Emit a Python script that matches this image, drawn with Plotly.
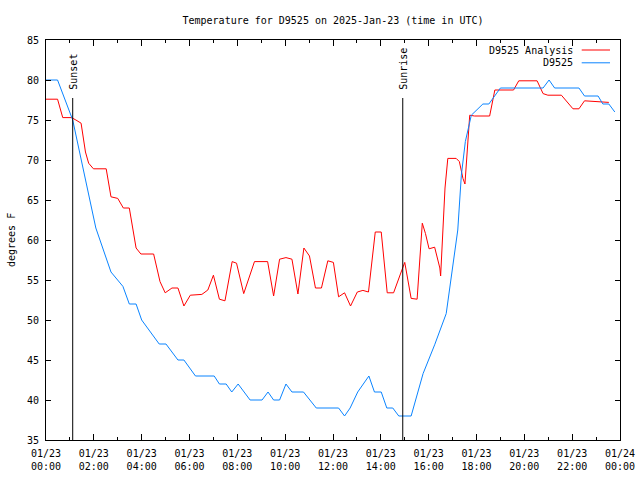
import plotly.graph_objects as go

DAY = "2025-01-23"

# D9525 observations (blue)
obs_times = ["00:00", "00:29", "01:07", "02:05", "02:43", "03:13", "03:29", "03:46", "04:00",
             "04:44", "05:01", "05:31", "05:46", "06:15", "07:02", "07:15", "07:32", "07:46",
             "08:02", "08:32", "09:02", "09:17", "09:31", "09:46", "10:02", "10:17", "10:46",
             "11:18", "12:14", "12:29", "12:43", "13:02", "13:30", "13:44", "14:01", "14:15",
             "14:30", "14:45", "15:16", "15:46", "16:15", "16:44", "17:13", "17:22", "17:32",
             "17:47", "18:16", "18:31", "19:00", "20:47", "21:02", "21:16", "22:17", "22:31",
             "23:05", "23:17", "23:32", "23:47"]
obs_temps = [80, 80, 75, 61.5, 56, 54.2, 52, 52, 50,
             47, 47, 45, 45, 43, 43, 42, 42, 41,
             42, 40, 40, 41, 40, 40, 42, 41, 41,
             39, 39, 38, 39, 41, 43, 41, 41, 39,
             39, 38, 38, 43.3, 46.9, 50.8, 61.25, 68.1, 72.3,
             75.6, 77, 77, 79, 79, 80, 79, 79, 78,
             78, 77, 77, 76]

# D9525 Analysis (red)
ana_times = ["00:00", "00:29", "00:42", "01:04", "01:15", "01:28", "01:39", "01:47", "01:59",
             "02:31", "02:43", "03:00", "03:14", "03:29", "03:46", "03:58", "04:30", "04:46",
             "04:59", "05:16", "05:31", "05:46", "06:02", "06:31", "06:46", "07:00", "07:15",
             "07:29", "07:47", "07:58", "08:16", "08:43", "09:16", "09:31", "09:46", "10:02",
             "10:17", "10:32", "10:47", "11:01", "11:16", "11:31", "11:47", "12:01", "12:14",
             "12:29", "12:44", "13:01", "13:15", "13:29", "13:46", "14:01", "14:16", "14:32",
             "14:51", "15:00", "15:16", "15:31", "15:44", "15:52", "16:01", "16:15", "16:28",
             "16:30", "16:41", "16:48", "17:09", "17:17", "17:26", "17:31", "17:43", "17:55",
             "18:33", "18:46", "19:33", "19:46", "20:32", "20:47", "20:59", "21:33", "22:02",
             "22:17", "22:31", "23:32"]
ana_temps = [77.6, 77.6, 75.3, 75.3, 75.0, 74.6, 71.0, 69.6, 68.9,
             68.9, 65.4, 65.2, 64.0, 64.0, 59.0, 58.25, 58.25, 54.8,
             53.4, 54.0, 54.0, 51.75, 53.1, 53.2, 53.75, 55.6, 52.6,
             52.4, 57.3, 57.1, 53.3, 57.3, 57.3, 53.0, 57.6, 57.8,
             57.6, 53.25, 59.0, 58.0, 54.0, 54.0, 57.4, 57.2, 52.9,
             53.4, 51.75, 53.5, 53.7, 53.5, 61.0, 61.0, 53.4, 53.4,
             56.0, 57.2, 52.7, 52.6, 62.1, 60.8, 58.9, 59.1, 56.5,
             55.5, 66.5, 70.2, 70.2, 69.8, 67.7, 67.0, 75.6, 75.5,
             75.5, 78.75, 78.75, 79.9, 79.9, 78.3, 78.1, 78.1, 76.4,
             76.4, 77.4, 77.2]

# sun events
event_names = ["Sunset", "Sunrise"]
event_times = ["01:07", "14:55"]

# axis ticks
x_tick_times = ["2025-01-23 00:00", "2025-01-23 02:00", "2025-01-23 04:00", "2025-01-23 06:00",
                "2025-01-23 08:00", "2025-01-23 10:00", "2025-01-23 12:00", "2025-01-23 14:00",
                "2025-01-23 16:00", "2025-01-23 18:00", "2025-01-23 20:00", "2025-01-23 22:00",
                "2025-01-24 00:00"]
x_tick_labels = ["01/23<br>00:00", "01/23<br>02:00", "01/23<br>04:00", "01/23<br>06:00",
                 "01/23<br>08:00", "01/23<br>10:00", "01/23<br>12:00", "01/23<br>14:00",
                 "01/23<br>16:00", "01/23<br>18:00", "01/23<br>20:00", "01/23<br>22:00",
                 "01/24<br>00:00"]
y_ticks = [35, 40, 45, 50, 55, 60, 65, 70, 75, 80, 85]

RED = "#ff0000"
BLUE = "#0a84ff"
FONT = "DejaVu Sans Mono"

fig = go.Figure()
fig.add_trace(go.Scatter(x=[f"{DAY} {t}" for t in ana_times], y=ana_temps, mode="lines",
                         line=dict(color=RED, width=1), name="D9525 Analysis", showlegend=False))
fig.add_trace(go.Scatter(x=[f"{DAY} {t}" for t in obs_times], y=obs_temps, mode="lines",
                         line=dict(color=BLUE, width=1), name="D9525", showlegend=False))

for name, t in zip(event_names, event_times):
    fig.add_shape(type="line", xref="x", yref="paper", x0=f"{DAY} {t}", x1=f"{DAY} {t}",
                  y0=0, y1=0.855, line=dict(color="black", width=1))
    fig.add_annotation(x=f"{DAY} {t}", y=0.87, xref="x", yref="paper", text=name,
                       textangle=-90, showarrow=False, xanchor="center", yanchor="bottom",
                       font=dict(family=FONT, size=10, color="black"))

# legend (text left of line sample)
for i, (name, col) in enumerate([("D9525 Analysis", RED), ("D9525", BLUE)]):
    yy = 0.975 - i * 0.032
    fig.add_annotation(x=0.922, y=yy, xref="paper", yref="paper", text=name, showarrow=False,
                       xanchor="right", yanchor="middle",
                       font=dict(family=FONT, size=10, color="black"))
    fig.add_shape(type="line", xref="paper", yref="paper", x0=0.9333, x1=0.9826, y0=yy, y1=yy,
                  line=dict(color=col, width=1))

fig.add_annotation(x=0, y=0.5, xref="paper", yref="paper", text="degrees F", textangle=-90,
                   showarrow=False, xshift=-35, xanchor="center", yanchor="middle",
                   font=dict(family=FONT, size=10, color="black"))

fig.update_layout(
    width=640, height=480,
    margin=dict(l=46, r=20, t=40, b=40, autoexpand=False),
    paper_bgcolor="white", plot_bgcolor="white",
    title=dict(text="Temperature for D9525 on 2025-Jan-23 (time in UTC)",
               x=0.5, xref="paper", xanchor="center", y=1 - 20 / 480, yref="container",
               yanchor="middle", automargin=False,
               font=dict(family=FONT, size=10, color="black")),
    font=dict(family=FONT, size=10, color="black"),
    showlegend=False,
)
fig.update_xaxes(type="date", range=["2025-01-23 00:00", "2025-01-24 00:00"], automargin=False,
                 tickmode="array", tickvals=x_tick_times, ticktext=x_tick_labels,
                 ticks="inside", ticklen=6, tickcolor="black", showgrid=False, zeroline=False,
                 showline=True, linecolor="black", linewidth=1, mirror="ticks",
                 minor=dict(dtick=3600000, ticks="inside", ticklen=3, tickcolor="black", showgrid=False),
                 ticklabelstandoff=4,
                 tickfont=dict(family=FONT, size=10, color="black"))
fig.update_yaxes(range=[35, 85], tickmode="array", tickvals=y_ticks, automargin=False,
                 ticks="inside", ticklen=5, tickcolor="black", showgrid=False, zeroline=False,
                 showline=True, linecolor="black", linewidth=1, mirror="ticks",
                 ticklabelstandoff=4,
                 tickfont=dict(family=FONT, size=10, color="black"))

fig.write_html("out.html", config={"displayModeBar": False},
               post_script="document.body.style.margin='0';document.body.style.overflow='hidden';")
